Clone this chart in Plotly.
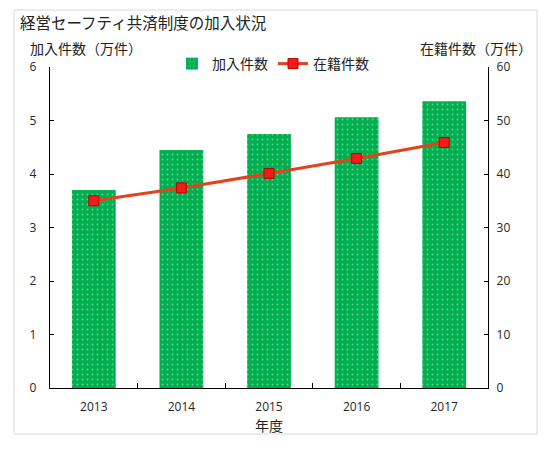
import plotly.graph_objects as go

years = ["2013", "2014", "2015", "2016", "2017"]
kanyu = [3.70, 4.45, 4.75, 5.06, 5.36]        # 加入件数（万件）
zaiseki = [35.0, 37.4, 40.1, 42.9, 45.9]      # 在籍件数（万件）

OFF = 8  # page body margin
W, H = 552 - OFF, 453 - OFF
# plot area in screen pixels
PL, PR, PT, PB = 50, 488, 67, 388
ML, MR, MT, MB = PL - OFF, W - (PR - OFF), PT - OFF, H - (PB - OFF)
PW, PH = PR - PL, PB - PT

def px_x(x):
    return (x - PL) / PW

def px_y(y):
    return (PB - y) / PH

JP = "Noto Sans CJK JP"
NUM = "Open Sans"
TXT = "#222222"
TICK = "#262626"

fig = go.Figure()
fig.add_trace(go.Bar(
    x=years, y=kanyu, name="加入件数", width=0.5,
    marker=dict(color="#00B050", line=dict(width=0),
                pattern=dict(shape=".", fgcolor="rgba(255,255,255,0.8)", size=5,
                             solidity=0.1, fillmode="overlay")),
    yaxis="y",
))
fig.add_trace(go.Scatter(
    x=years, y=zaiseki, name="在籍件数", mode="lines+markers",
    line=dict(color="#E5421C", width=3),
    marker=dict(symbol="square", size=10, color="#EE1C1C", line=dict(color="#C00000", width=1)),
    yaxis="y2",
))

fig.update_layout(
    width=W, height=H,
    margin=dict(l=ML, r=MR, t=MT, b=MB),
    paper_bgcolor="white", plot_bgcolor="white",
    title=dict(text="経営セーフティ共済制度の加入状況", x=(20 - OFF) / W, xref="container", xanchor="left",
               y=1 - (18 - OFF) / H, yref="container", yanchor="top",
               font=dict(family=JP, size=15.5, color=TXT)),
    showlegend=True,
    legend=dict(orientation="h", x=px_x(172), xanchor="left", y=px_y(64), yanchor="middle",
                font=dict(family=JP, size=14, color=TXT), bgcolor="rgba(0,0,0,0)",
                itemwidth=30, tracegroupgap=0),
    bargap=0.5,
    xaxis=dict(type="category", showline=True, linecolor="black", linewidth=1.3,
               ticks="inside", tickson="boundaries", ticklen=5, tickcolor="black",
               ticklabelstandoff=7,
               tickfont=dict(family=NUM, size=12, color=TICK),
               title=dict(text="年度", font=dict(family=JP, size=14, color=TXT), standoff=1),
               showgrid=False),
    yaxis=dict(range=[0, 6], dtick=1, showline=True, linecolor="black", linewidth=1.3,
               ticks="inside", ticklen=4, tickcolor="black", showgrid=False, zeroline=False,
               ticklabelstandoff=10,
               tickfont=dict(family=NUM, size=12, color=TICK)),
    yaxis2=dict(range=[0, 60], dtick=10, overlaying="y", side="right", showline=True,
                linecolor="black", linewidth=1.3, ticks="inside", ticklen=4, tickcolor="black",
                showgrid=False, zeroline=False, ticklabelstandoff=5,
                tickfont=dict(family=NUM, size=12, color=TICK)),
    annotations=[
        dict(text="加入件数（万件）", xref="paper", yref="paper", x=px_x(28), y=px_y(48),
             xanchor="left", yanchor="middle", showarrow=False,
             font=dict(family=JP, size=14, color=TXT)),
        dict(text="在籍件数（万件）", xref="paper", yref="paper", x=px_x(534), y=px_y(48),
             xanchor="right", yanchor="middle", showarrow=False,
             font=dict(family=JP, size=14, color=TXT)),
    ],
    shapes=[
        dict(type="rect", xref="paper", yref="paper", layer="below",
             x0=px_x(14), x1=px_x(537), y0=px_y(434), y1=px_y(10),
             line=dict(color="#D9D9D9", width=1), fillcolor="rgba(0,0,0,0)"),
    ],
)

fig.write_html("out.html")
